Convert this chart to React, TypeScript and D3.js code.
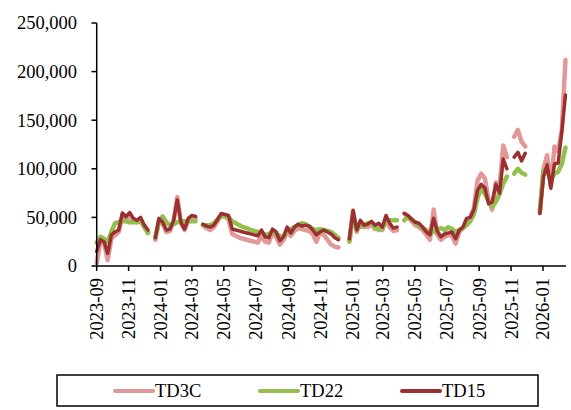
import React from "react";
import * as d3 from "d3";

const startDate = new Date(2023, 8, 1);
const weekCount = 129;
const xTickLabels = ["2023-09","2023-11","2024-01","2024-03","2024-05","2024-07","2024-09","2024-11","2025-01","2025-03","2025-05","2025-07","2025-09","2025-11","2026-01"];
const yTicks = [0, 50000, 100000, 150000, 200000, 250000];
const seriesNames = ["TD3C", "TD22", "TD15"];

const td3c: (number | null)[] = [
  3000,25000,24000,6000,28000,32000,35000,52000,48000,53000,46000,45000,48000,40000,34000,
  null,
  27000,47000,44000,35000,36000,46000,71000,44000,37000,47000,50000,49000,
  null,
  42000,39000,37000,40000,46000,52000,51000,48000,33000,31000,29000,28000,27000,26000,25000,24000,31000,25000,24000,34000,30000,22000,27000,35000,31000,36000,39000,38000,37000,36000,33000,25000,35000,32000,27000,22000,20000,19000,
  null,null,
  26000,57000,35000,45000,40000,40000,43000,38000,39000,37000,49000,40000,36000,37000,
  null,
  54000,50000,46000,42000,40000,37000,32000,27000,58000,32000,27000,30000,32000,31000,23000,35000,39000,47000,50000,60000,88000,95000,90000,68000,58000,86000,80000,124000,112000,
  null,
  133000,140000,128000,123000,
  null,null,null,
  56000,100000,114000,82000,123000,118000,140000,212000,
];

const td22: (number | null)[] = [
  24000,30000,28000,25000,35000,44000,45000,46000,46000,45000,45000,45000,46000,40000,34000,
  null,
  29000,45000,51000,45000,42000,43000,45000,46000,46000,46000,46000,46000,
  null,
  42000,42000,42000,44000,48000,52000,51000,50000,46000,44000,42000,40000,39000,37000,36000,35000,34000,32000,33000,35000,33000,31000,30000,36000,38000,40000,42000,44000,43000,41000,38000,37000,38000,37000,36000,35000,32000,29000,
  null,null,
  25000,52000,40000,40000,42000,44000,44000,40000,37000,39000,45000,47000,47000,47000,
  null,
  47000,51000,48000,45000,42000,39000,37000,34000,35000,38000,39000,37000,40000,38000,35000,37000,39000,42000,46000,53000,70000,80000,74000,67000,61000,66000,74000,85000,92000,
  null,
  95000,100000,96000,94000,
  null,null,null,
  55000,98000,97000,88000,95000,97000,105000,122000,
];

const td15: (number | null)[] = [
  15000,27000,25000,13000,32000,35000,37000,54500,50700,55000,49000,47000,50000,42000,37000,
  null,
  29000,49000,45000,37000,38000,47000,68000,45000,38000,49000,52000,51000,
  null,
  43000,41000,40000,42000,48000,54000,53000,52000,38000,37000,36000,35000,34000,33000,32000,31000,37000,30000,29000,38000,35000,26000,30000,40000,34000,40000,43000,41000,42000,41000,37000,32000,35000,37000,35000,33000,29000,27000,
  null,null,
  28000,57000,37000,47000,42000,43000,46000,42000,44000,40000,52000,44000,39000,40000,
  null,
  54000,52000,48000,45000,44000,40000,35000,32000,49000,36000,30000,33000,34000,35000,28000,37000,40000,49000,50000,58000,78000,84000,80000,64000,66000,84000,75000,110000,100000,
  null,
  112000,117000,108000,116000,
  null,null,null,
  54000,92000,104000,80000,105000,106000,138000,176000,
];

const colors = ["#E29898", "#93BF4F", "#9A3030"];
const widths = [4.5, 4.5, 3.5];

export default function App() {
  const W = 571, H = 410;
  const textStyle = { fontFamily: "Liberation Serif, Times New Roman, DejaVu Serif, serif", fontSize: "18.5px" };
  const dates = d3.range(weekCount).map((i) => d3.timeDay.offset(startDate, 7 * i));
  const x = d3.scaleTime().domain([new Date(2023, 8, 1), new Date(2026, 1, 14)]).range([96.7, 566]);
  const y = d3.scaleLinear().domain([0, 250000]).range([266, 23]);
  const fmt = d3.format(",");
  const series = [td3c, td22, td15];
  const xTicks = xTickLabels.map((s) => d3.timeParse("%Y-%m")(s) as Date);

  const lineGen = d3
    .line<number | null>()
    .defined((d) => d != null)
    .x((_, i) => x(dates[i]))
    .y((d) => y(d as number));

  const legendItems = [
    { x1: 115, x2: 153 },
    { x1: 260, x2: 298 },
    { x1: 402, x2: 440 },
  ];

  return (
    <svg width={W} height={H} style={{ position: "absolute", left: 0, top: 0, background: "#fff" }}>
      {series.map((s, k) => (
        <path key={k} d={lineGen(s) || ""} fill="none" stroke={colors[k]} strokeWidth={widths[k]} strokeLinejoin="round" strokeLinecap="round" />
      ))}
      <line x1={96.7} x2={96.7} y1={23} y2={266} stroke="#000" strokeWidth={1.5} />
      {yTicks.map((t) => (
        <g key={t}>
          <line x1={91.5} x2={96.7} y1={y(t)} y2={y(t)} stroke="#000" strokeWidth={1.5} />
          <text x={77} y={y(t)} dy="0.35em" textAnchor="end" style={textStyle} fill="#000">{fmt(t)}</text>
        </g>
      ))}
      <line x1={96.7} x2={566} y1={266} y2={266} stroke="#000" strokeWidth={1.5} />
      {xTicks.map((t, i) => (
        <g key={i}>
          <line x1={x(t)} x2={x(t)} y1={266} y2={271} stroke="#000" strokeWidth={1.5} />
          <text transform={`translate(${x(t)},278) rotate(-90)`} dy="0.35em" textAnchor="end" style={textStyle} fill="#000">{xTickLabels[i]}</text>
        </g>
      ))}
      <rect x={57} y={375} width={481} height={31} fill="none" stroke="#000" strokeWidth={1.5} />
      {legendItems.map((it, k) => (
        <g key={k}>
          <line x1={it.x1} x2={it.x2} y1={391} y2={391} stroke={colors[k]} strokeWidth={4} strokeLinecap="round" />
          <text x={it.x2 + 2} y={391} dy="0.35em" style={textStyle} fill="#000">{seriesNames[k]}</text>
        </g>
      ))}
    </svg>
  );
}
